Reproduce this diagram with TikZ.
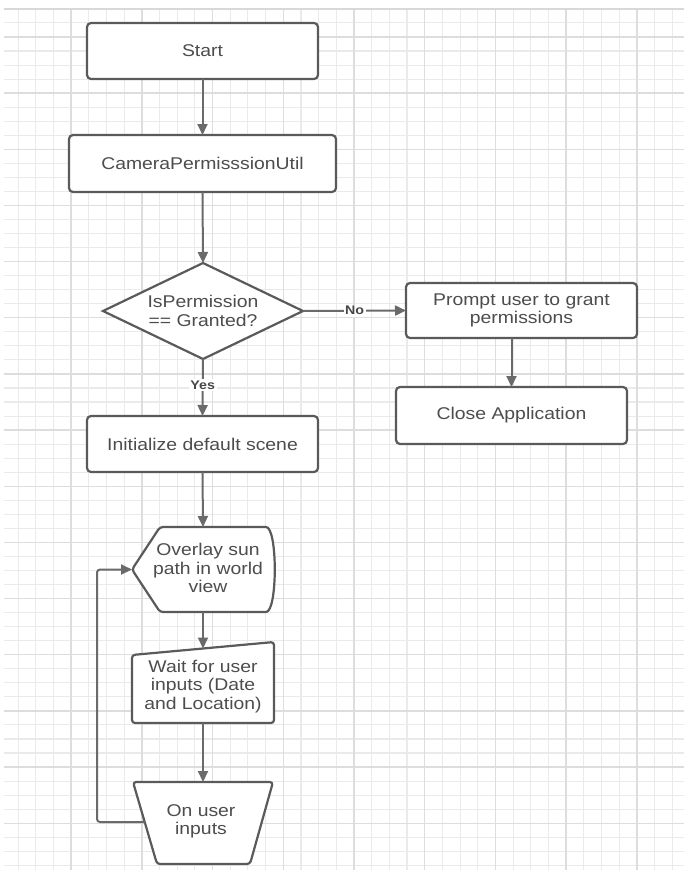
\documentclass[tikz,border=0pt]{standalone}
\usepackage{fontspec}
\setmainfont[FakeStretch=1.14]{Liberation Sans}
\usetikzlibrary{arrows.meta,shapes.geometric,calc}

\definecolor{gridminor}{HTML}{EAEAEA}
\definecolor{gridmajor}{HTML}{DDDDDD}
\definecolor{gridedge}{HTML}{D8D8D8}
\definecolor{shapeline}{HTML}{5A5A5A}
\definecolor{flowline}{HTML}{6A6A6A}
\definecolor{labeltext}{HTML}{4D4D4D}

\begin{document}
\begin{tikzpicture}[x=1pt,y=-1pt,
  every node/.style={inner sep=0pt, outer sep=0pt},
  textfont/.style={text=labeltext, align=center, font=\fontsize{17}{18.5}\selectfont},
  box/.style={textfont, draw=shapeline, line width=2.2pt, rounded corners=4pt, fill=white},
  outline/.style={draw=shapeline, line width=2.2pt, fill=white, rounded corners=3pt, line join=round},
  flow/.style={draw=flowline, line width=2pt, -{Triangle[length=11pt,width=10pt]}},
  branch/.style={fill=white, text=black!72, font=\bfseries\fontsize{12.5}{14}\selectfont, inner sep=1.5pt}
]
\useasboundingbox (0,0) rectangle (684,875);
\fill[white] (0,0) rectangle (684,875);

% background grid: minor lines every quarter cell, major lines on whole cells
\begin{scope}
  \clip (4,8) rectangle (684,870);
  \foreach \k in {0,...,61}
    \draw[gridminor, line width=1.1pt] (4,{8.9+14.04*\k}) -- (684,{8.9+14.04*\k});
  \foreach \k in {0,...,38}
    \draw[gridminor, line width=1.1pt] ({0.4+17.68*\k},8) -- ({0.4+17.68*\k},870);
  \foreach \j in {0,...,14}
    \draw[gridmajor, line width=1.4pt] (4,{36.98+56.16*\j}) -- (684,{36.98+56.16*\j});
  \foreach \j in {1,...,9}
    \draw[gridmajor, line width=1.4pt] ({0.4+70.72*\j},8) -- ({0.4+70.72*\j},870);
  \draw[gridedge, line width=1.4pt] (4,8.9) -- (684,8.9);
\end{scope}

% process boxes and decision
\node[box, minimum width=231pt, minimum height=56pt] (start) at (202.5,51) {Start};
\node[box, minimum width=267pt, minimum height=57pt] (perm) at (202.5,163.5) {CameraPermisssionUtil};
\node[textfont, diamond, draw=shapeline, line width=2.2pt, fill=white, aspect=2.08,
      minimum width=200pt, minimum height=96pt] (check) at (203,311) {IsPermission\\== Granted?};
\node[box, minimum width=231pt, minimum height=55pt] (prompt) at (521.5,310.5) {Prompt user to grant\\permissions};
\node[box, minimum width=231pt, minimum height=57pt] (close) at (511.5,415.5) {Close Application};
\node[box, minimum width=231pt, minimum height=56pt] (init) at (202.5,444) {Initialize default scene};

% display shape
\node[minimum width=142pt, minimum height=85pt] (ovl) at (203,569.5) {};
\draw[outline] (160,527) -- (263,527) .. controls (277.7,527) and (277.7,612) .. (263,612)
  -- (160,612) -- (ovl.west) -- cycle;
\node[textfont] (ovltext) at (208,568) {Overlay sun\\path in world\\view};

% manual input shape
\node[minimum width=142pt, minimum height=81pt] (wait) at (203,682.5) {};
\draw[outline] (132,655) -- (274,642) -- (274,723) -- (132,723) -- cycle;
\node[textfont] (waittext) at (203,686.5) {Wait for user\\inputs (Date\\and Location)};

% manual operation shape
\node[minimum width=140pt, minimum height=82pt] (onin) at (203,823) {};
\draw[outline] (133,782) -- (273,782) -- (250,864) -- (157,864) -- cycle;
\node[textfont] (onintext) at (201,821.5) {On user\\inputs};

% connectors
\draw[flow] (start.south) -- (perm.north);
\draw[flow] (perm.south) -- (check.north);
\draw[flow] (check.east) -- node[branch] {No} (prompt.west);
\draw[flow] (prompt.south -| close.north) -- (close.north);
\draw[flow] (check.south) -- node[branch, pos=0.46] {Yes} (init.north);
\draw[flow] (init.south) -- (ovl.north);
\draw[flow] (ovl.south) -- ($(wait.north)+(0,6.5)$);
\draw[flow] (wait.south) -- (onin.north);
\coordinate (loopstart) at (145,822);
\draw[flow, rounded corners=3pt] (loopstart) -- ++(-48,0) |- (ovl.west);
\end{tikzpicture}
\end{document}
